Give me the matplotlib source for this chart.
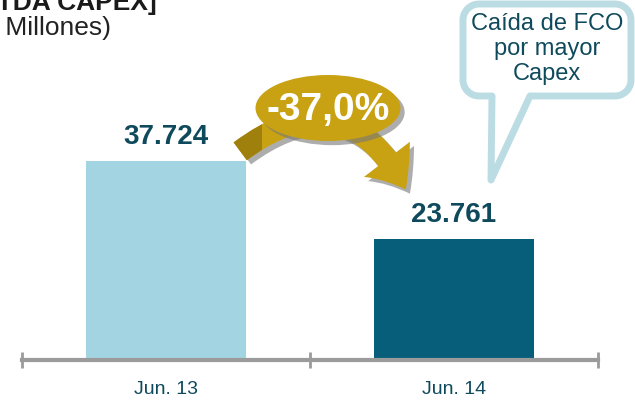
import matplotlib.pyplot as plt
import matplotlib.patches as mpatches
import matplotlib.patheffects as pe
import numpy as np

plt.rcParams['font.family'] = ['Liberation Sans', 'DejaVu Sans']

periods = ['Jun. 13', 'Jun. 14']
values = [37724, 23761]
value_labels = ['37.724', '23.761']
change_label = '-37,0%'
note = 'Caída de FCO\npor mayor\nCapex'
bar_colors = ['#A3D4E2', '#075E7A']
text_dark = '#0F4A5C'
gold = '#C9A214'
gold_dark = '#A0800C'
grey = '#9B9B9B'

fig = plt.figure(figsize=(6.35, 4.01), dpi=100)
ax = fig.add_axes([22 / 635, 41 / 401, 576 / 635, 360 / 401])

pos = np.arange(len(values)) + 0.5
bars = ax.bar(pos, values, width=0.556, color=bar_colors, zorder=1)
ax.set_xlim(0, 2)
ax.set_ylim(2100, 66550)

for b, lab in zip(bars, value_labels):
    ax.annotate(lab, (b.get_x() + b.get_width() / 2, b.get_height()),
                xytext=(0, 17), textcoords='offset pixels', ha='center', va='baseline',
                fontsize=20, fontweight='bold', color=text_dark)

for s in ['top', 'left', 'right']:
    ax.spines[s].set_visible(False)
ax.spines['bottom'].set_color(grey)
ax.spines['bottom'].set_linewidth(3)
ax.spines['bottom'].set_zorder(3)
ax.set_yticks([])
ax.set_xticks([0, 1, 2])
ax.set_xticklabels([])
ax.tick_params(axis='x', which='major', direction='inout', length=11, width=2, color=grey)
ax.set_xticks(pos, minor=True)
ax.set_xticklabels(periods, minor=True)
ax.tick_params(axis='x', which='minor', length=0, pad=15, labelsize=14, labelcolor=text_dark)
ax.patch.set_visible(False)

# overlay in pixel coordinates for the decorations
ov = fig.add_axes([0, 0, 1, 1], zorder=5)
ov.set_xlim(0, 635)
ov.set_ylim(401, 0)
ov.axis('off')
ov.patch.set_visible(False)

# title (cut off at the top edge, as in the source slide)
ov.text(157, 10, '[EBITDA CAPEX]', ha='right', va='baseline', fontsize=19,
        fontweight='bold', color='#1a1a1a')
ov.text(111, 35, '(US$ Millones)', ha='right', va='baseline', fontsize=19, color='#222222')

# curved arrow
shadow = [pe.SimplePatchShadow(offset=(3, -3), shadow_rgbFace='#777777', alpha=0.6), pe.Normal()]
style = 'simple,head_length=1.6,head_width=2.6,tail_width=1.0'
arr = mpatches.FancyArrowPatch((238, 153), (407, 192), arrowstyle=style, mutation_scale=16,
                               connectionstyle='arc3,rad=-0.6', color=gold, lw=0)
arr.set_path_effects(shadow)
ov.add_patch(arr)
arr2 = mpatches.FancyArrowPatch((238, 153), (407, 192), arrowstyle=style, mutation_scale=16,
                                connectionstyle='arc3,rad=-0.6', color=gold_dark, lw=0)
ov.add_patch(arr2)
clip = mpatches.Rectangle((0, 0), 262, 401, transform=ov.transData)
arr2.set_clip_path(clip)

ell = mpatches.Ellipse((328, 108), 145, 66, color=gold, lw=0)
ell.set_path_effects(shadow)
ov.add_patch(ell)
ov.text(328, 110, change_label, ha='center', va='center', fontsize=28,
        fontweight='bold', color='white')

# speech bubble
x0, x1, y0, y1, r = 463, 631, 4, 96, 16
pts = [(492, y1), (491, 180), (530, y1)]
for cx, cy, a0, a1 in [(x1 - r, y1 - r, 90, 0), (x1 - r, y0 + r, 0, -90),
                       (x0 + r, y0 + r, -90, -180), (x0 + r, y1 - r, 180, 90)]:
    t = np.radians(np.linspace(a0, a1, 12))
    pts += list(zip(cx + r * np.cos(t), cy + r * np.sin(t)))
bubble = mpatches.Polygon(pts, closed=True, facecolor='white', edgecolor='#BCDCE4',
                          lw=5, joinstyle='round')
ov.add_patch(bubble)
ov.text(547, 49, note, ha='center', va='center', fontsize=17, color=text_dark,
        linespacing=1.2)

fig.savefig('out.png', dpi=100)
